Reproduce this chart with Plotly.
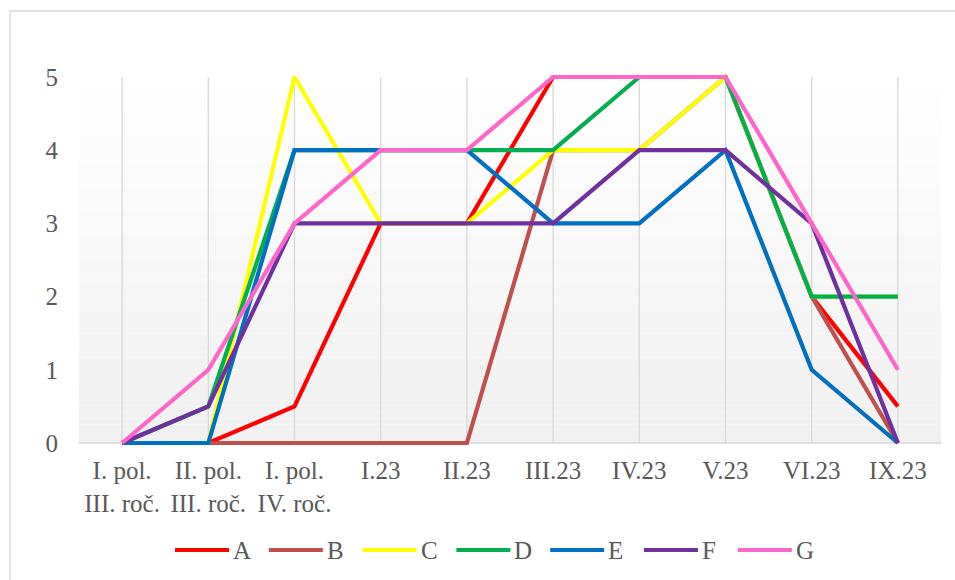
import plotly.graph_objects as go

# Category labels (two-line ones use <br>)
categories = [
    "I. pol.<br>III. roč.", "II. pol.<br>III. roč.", "I. pol.<br>IV. roč.",
    "I.23", "II.23", "III.23", "IV.23", "V.23", "VI.23", "IX.23",
]

series_names = ["A", "B", "C", "D", "E", "F", "G"]
series_colors = ["#ff0000", "#c0504d", "#ffff00", "#00b050", "#0070c0", "#7030a0", "#ff66cc"]

A = [0, 0, 0.5, 3, 3, 5, 5, 5, 2, 0.5]
B = [0, 0, 0, 0, 0, 4, 4, 5, 2, 0]
C = [0, 0, 5, 3, 3, 4, 4, 5, 2, 2]
D = [0, 0.5, 4, 4, 4, 4, 5, 5, 2, 2]
E = [0, 0, 4, 4, 4, 3, 3, 4, 1, 0]
F = [0, 0.5, 3, 3, 3, 3, 4, 4, 3, 0]
G = [0, 1, 3, 4, 4, 5, 5, 5, 3, 1]
series_values = [A, B, C, D, E, F, G]

y_ticks = [0, 1, 2, 3, 4, 5]

W, H = 955, 580
FONT = "Liberation Serif, Times New Roman, serif"
FSIZE = 25
TEXT = "#595959"
GRID = "#d9d9d9"

# plot area in pixels
PL, PR = 79, 941
Y0PX, Y5PX = 443, 77
PAD = 0.1
unit = (Y0PX - Y5PX) / 5.0
dom_bottom = 1 - (Y0PX + PAD * unit) / H
dom_top = 1 - (Y5PX - PAD * unit) / H

idx = list(range(len(categories)))

fig = go.Figure()
for name, color, vals in zip(series_names, series_colors, series_values):
    fig.add_trace(go.Scatter(
        x=idx, y=vals, mode="lines", name=name,
        line=dict(color=color, width=4.2), showlegend=False,
        hoverinfo="x+y+name",
    ))

shapes = []
# vertical gradient background of the plot area
steps = 60
for i in range(steps):
    t = (i + 0.5) / steps
    g = round(255 - (255 - 240) * t)
    y_lo = 5 - 5 * (i + 1) / steps
    y_hi = 5 - 5 * i / steps
    shapes.append(dict(type="rect", xref="x", yref="y", x0=-0.5, x1=len(categories) - 0.5,
                       y0=y_lo, y1=y_hi, line=dict(width=0),
                       fillcolor=f"rgb({g},{g},{g})", layer="below"))
# vertical gridlines at each category
for i in idx:
    shapes.append(dict(type="line", xref="x", yref="y", x0=i, x1=i, y0=0, y1=5,
                       line=dict(color=GRID, width=1.3), layer="below"))
# category axis line
shapes.append(dict(type="line", xref="x", yref="y", x0=-0.5, x1=len(categories) - 0.5,
                   y0=0, y1=0, line=dict(color=GRID, width=1.5), layer="below"))
# chart frame
shapes.append(dict(type="rect", xref="paper", yref="paper",
                   x0=10 / W, x1=1.05, y0=-0.05, y1=1 - 11 / H,
                   line=dict(color=GRID, width=1.3), fillcolor="rgba(0,0,0,0)", layer="below"))

# legend drawn as line samples and labels
annotations = []
leg_x0, leg_step, leg_len, leg_y = 175, 93.8, 54, 550
for k, (name, color) in enumerate(zip(series_names, series_colors)):
    x0 = leg_x0 + k * leg_step
    shapes.append(dict(type="line", xref="paper", yref="paper",
                       x0=x0 / W, x1=(x0 + leg_len) / W,
                       y0=1 - leg_y / H, y1=1 - leg_y / H,
                       line=dict(color=color, width=4.2)))
    annotations.append(dict(xref="paper", yref="paper", x=(x0 + leg_len + 2) / W,
                            y=1 - leg_y / H, text=name, showarrow=False,
                            xanchor="left", yanchor="middle",
                            font=dict(family=FONT, size=FSIZE, color=TEXT)))

fig.update_layout(
    width=W, height=H,
    margin=dict(l=0, r=0, t=0, b=0),
    paper_bgcolor="white", plot_bgcolor="rgba(0,0,0,0)",
    font=dict(family=FONT, size=FSIZE, color=TEXT),
    shapes=shapes, annotations=annotations,
    showlegend=False,
    xaxis=dict(
        domain=[PL / W, PR / W], range=[-0.5, len(categories) - 0.5],
        tickmode="array", tickvals=idx, ticktext=categories,
        showgrid=False, zeroline=False, showline=False, ticks="",
        ticklabelstandoff=3, automargin=False, fixedrange=True,
        tickfont=dict(family=FONT, size=FSIZE, color=TEXT),
    ),
    yaxis=dict(
        domain=[dom_bottom, dom_top], range=[-PAD, 5 + PAD],
        tickmode="array", tickvals=y_ticks, ticktext=[str(v) for v in y_ticks],
        showgrid=False, zeroline=False, showline=False, ticks="",
        ticklabelstandoff=20, automargin=False, fixedrange=True,
        tickfont=dict(family=FONT, size=FSIZE, color=TEXT),
    ),
)

fig.write_html("out.html")
